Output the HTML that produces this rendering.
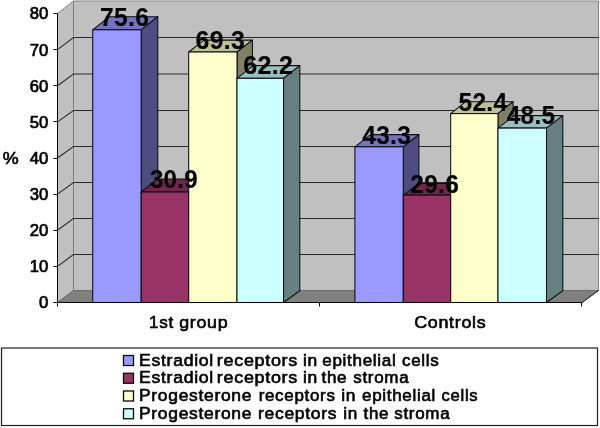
<!DOCTYPE html>
<html><head><meta charset="utf-8"><title>chart</title>
<style>html,body{margin:0;padding:0;background:#fff;}body{width:600px;height:428px;overflow:hidden;font-family:"Liberation Sans",sans-serif;}svg{display:block;will-change:transform;}text{font-family:"Liberation Sans",sans-serif;fill:#000;}</style>
</head><body>
<svg width="600" height="428" viewBox="0 0 600 428">
<rect width="600" height="428" fill="#fff"/>
<polygon points="73.5,1.0 598.5,1.0 598.5,290.5 73.5,290.5" fill="#c0c0c0" stroke="#808080" stroke-width="1"/>
<polygon points="57.5,13.54 73.5,1.0 73.5,290.5 57.5,302.5" fill="#c0c0c0" stroke="#808080" stroke-width="1"/>
<polygon points="57.5,302.5 73.5,290.5 598.5,290.5 582.0,302.5" fill="#808080" stroke="#6a6a6a" stroke-width="1"/>
<line x1="582.0" y1="302.5" x2="598.5" y2="290.5" stroke="#222" stroke-width="1"/>
<polyline points="57.5,266.38 73.5,254.5 598.5,254.5" fill="none" stroke="#2a2a2a" stroke-width="1.05"/>
<polyline points="57.5,230.26 73.5,218.5 598.5,218.5" fill="none" stroke="#2a2a2a" stroke-width="1.05"/>
<polyline points="57.5,194.14 73.5,182.5 598.5,182.5" fill="none" stroke="#2a2a2a" stroke-width="1.05"/>
<polyline points="57.5,158.02 73.5,146.5 598.5,146.5" fill="none" stroke="#2a2a2a" stroke-width="1.05"/>
<polyline points="57.5,121.90 73.5,110.5 598.5,110.5" fill="none" stroke="#2a2a2a" stroke-width="1.05"/>
<polyline points="57.5,85.78 73.5,74.0 598.5,74.0" fill="none" stroke="#2a2a2a" stroke-width="1.05"/>
<polyline points="57.5,49.66 73.5,37.5 598.5,37.5" fill="none" stroke="#2a2a2a" stroke-width="1.05"/>
<polygon points="92.7,29.8 109.3,16.7 157.8,16.7 141.2,29.8" fill="#7373bf" stroke="#0c0c14" stroke-width="1.05" stroke-linejoin="round"/>
<polygon points="141.2,29.8 157.8,16.7 157.8,290.7 141.2,302.5" fill="#4d4d80" stroke="#0c0c14" stroke-width="1.05" stroke-linejoin="round"/>
<rect x="92.7" y="29.8" width="48.5" height="272.7" fill="#9999ff" stroke="#0c0c14" stroke-width="1.05"/>
<polygon points="141.2,192.0 157.4,179.0 204.9,179.0 188.7,192.0" fill="#73264d" stroke="#0c0c14" stroke-width="1.05" stroke-linejoin="round"/>
<polygon points="188.7,192.0 204.9,179.0 204.9,290.7 188.7,302.5" fill="#4d1a33" stroke="#0c0c14" stroke-width="1.05" stroke-linejoin="round"/>
<rect x="141.2" y="192.0" width="47.5" height="110.5" fill="#993366" stroke="#0c0c14" stroke-width="1.05"/>
<polygon points="188.7,52.0 204.1,40.1 252.4,40.1 237.0,52.0" fill="#bfbf99" stroke="#0c0c14" stroke-width="1.05" stroke-linejoin="round"/>
<polygon points="237.0,52.0 252.4,40.1 252.4,290.7 237.0,302.5" fill="#808066" stroke="#0c0c14" stroke-width="1.05" stroke-linejoin="round"/>
<rect x="188.7" y="52.0" width="48.3" height="250.5" fill="#ffffcc" stroke="#0c0c14" stroke-width="1.05"/>
<polygon points="237.0,78.3 253.3,65.6 299.8,65.6 283.5,78.3" fill="#99bfbf" stroke="#0c0c14" stroke-width="1.05" stroke-linejoin="round"/>
<polygon points="283.5,78.3 299.8,65.6 299.8,290.7 283.5,302.5" fill="#668080" stroke="#0c0c14" stroke-width="1.05" stroke-linejoin="round"/>
<rect x="237.0" y="78.3" width="46.5" height="224.2" fill="#ccffff" stroke="#0c0c14" stroke-width="1.05"/>
<polygon points="354.9,146.8 370.5,134.6 418.9,134.6 403.3,146.8" fill="#7373bf" stroke="#0c0c14" stroke-width="1.05" stroke-linejoin="round"/>
<polygon points="403.3,146.8 418.9,134.6 418.9,290.7 403.3,302.5" fill="#4d4d80" stroke="#0c0c14" stroke-width="1.05" stroke-linejoin="round"/>
<rect x="354.9" y="146.8" width="48.4" height="155.7" fill="#9999ff" stroke="#0c0c14" stroke-width="1.05"/>
<polygon points="403.3,195.1 419.1,183.5 466.5,183.5 450.7,195.1" fill="#73264d" stroke="#0c0c14" stroke-width="1.05" stroke-linejoin="round"/>
<polygon points="450.7,195.1 466.5,183.5 466.5,290.7 450.7,302.5" fill="#4d1a33" stroke="#0c0c14" stroke-width="1.05" stroke-linejoin="round"/>
<rect x="403.3" y="195.1" width="47.4" height="107.4" fill="#993366" stroke="#0c0c14" stroke-width="1.05"/>
<polygon points="450.7,113.6 465.8,101.7 513.1,101.7 498.0,113.6" fill="#bfbf99" stroke="#0c0c14" stroke-width="1.05" stroke-linejoin="round"/>
<polygon points="498.0,113.6 513.1,101.7 513.1,290.7 498.0,302.5" fill="#808066" stroke="#0c0c14" stroke-width="1.05" stroke-linejoin="round"/>
<rect x="450.7" y="113.6" width="47.3" height="188.9" fill="#ffffcc" stroke="#0c0c14" stroke-width="1.05"/>
<polygon points="498.0,128.1 514.3,115.6 562.8,115.6 546.5,128.1" fill="#99bfbf" stroke="#0c0c14" stroke-width="1.05" stroke-linejoin="round"/>
<polygon points="546.5,128.1 562.8,115.6 562.8,290.7 546.5,302.5" fill="#668080" stroke="#0c0c14" stroke-width="1.05" stroke-linejoin="round"/>
<rect x="498.0" y="128.1" width="48.5" height="174.4" fill="#ccffff" stroke="#0c0c14" stroke-width="1.05"/>
<line x1="57.5" y1="13.54" x2="57.5" y2="306.5" stroke="#000" stroke-width="1"/>
<line x1="53.5" y1="302.5" x2="582.0" y2="302.5" stroke="#000" stroke-width="1"/>
<line x1="53.5" y1="302.5" x2="57.5" y2="302.5" stroke="#000" stroke-width="1"/>
<text transform="translate(48.20,308.40) scale(1.04,1)" font-size="16" text-anchor="end" stroke="#000" stroke-width="0.7">0</text>
<line x1="53.5" y1="266.5" x2="57.5" y2="266.5" stroke="#000" stroke-width="1"/>
<text transform="translate(48.20,272.28) scale(1.04,1)" font-size="16" text-anchor="end" stroke="#000" stroke-width="0.7">10</text>
<line x1="53.5" y1="230.5" x2="57.5" y2="230.5" stroke="#000" stroke-width="1"/>
<text transform="translate(48.20,236.16) scale(1.04,1)" font-size="16" text-anchor="end" stroke="#000" stroke-width="0.7">20</text>
<line x1="53.5" y1="194.5" x2="57.5" y2="194.5" stroke="#000" stroke-width="1"/>
<text transform="translate(48.20,200.04) scale(1.04,1)" font-size="16" text-anchor="end" stroke="#000" stroke-width="0.7">30</text>
<line x1="53.5" y1="158.5" x2="57.5" y2="158.5" stroke="#000" stroke-width="1"/>
<text transform="translate(48.20,163.92) scale(1.04,1)" font-size="16" text-anchor="end" stroke="#000" stroke-width="0.7">40</text>
<line x1="53.5" y1="121.5" x2="57.5" y2="121.5" stroke="#000" stroke-width="1"/>
<text transform="translate(48.20,127.80) scale(1.04,1)" font-size="16" text-anchor="end" stroke="#000" stroke-width="0.7">50</text>
<line x1="53.5" y1="85.5" x2="57.5" y2="85.5" stroke="#000" stroke-width="1"/>
<text transform="translate(48.20,91.68) scale(1.04,1)" font-size="16" text-anchor="end" stroke="#000" stroke-width="0.7">60</text>
<line x1="53.5" y1="49.5" x2="57.5" y2="49.5" stroke="#000" stroke-width="1"/>
<text transform="translate(48.20,55.56) scale(1.04,1)" font-size="16" text-anchor="end" stroke="#000" stroke-width="0.7">70</text>
<line x1="53.5" y1="13.5" x2="57.5" y2="13.5" stroke="#000" stroke-width="1"/>
<text transform="translate(48.20,18.54) scale(1.04,1)" font-size="16" text-anchor="end" stroke="#000" stroke-width="0.7">80</text>
<line x1="319.5" y1="302.5" x2="319.5" y2="306.5" stroke="#000" stroke-width="1"/>
<line x1="581.5" y1="302.5" x2="581.5" y2="306.5" stroke="#000" stroke-width="1"/>
<text transform="translate(2.80,163.60) scale(1.12,1)" font-size="16" stroke="#000" stroke-width="0.6">%</text>
<text transform="translate(149.07,327.70) scale(1.0665,1)" font-size="16" letter-spacing="0.656" stroke="#000" stroke-width="0.6">1st</text>
<text transform="translate(179.22,327.70) scale(1.1138,1)" font-size="16" letter-spacing="0.628" stroke="#000" stroke-width="0.6">group</text>
<text transform="translate(414.13,327.70) scale(1.1184,1)" font-size="16" letter-spacing="0.626" stroke="#000" stroke-width="0.6">Controls</text>
<text transform="translate(100.03,25.60) scale(0.929,1)" font-size="26.5" font-weight="bold" letter-spacing="0.323" stroke="#000" stroke-width="0.15">75.6</text>
<text transform="translate(149.89,187.80) scale(0.9114,1)" font-size="26.5" font-weight="bold" letter-spacing="0.329" stroke="#000" stroke-width="0.15">30.9</text>
<text transform="translate(195.62,48.80) scale(0.9373,1)" font-size="26.5" font-weight="bold" letter-spacing="0.320" stroke="#000" stroke-width="0.15">69.3</text>
<text transform="translate(243.18,74.30) scale(0.9465,1)" font-size="26.5" font-weight="bold" letter-spacing="0.317" stroke="#000" stroke-width="0.15">62.2</text>
<text transform="translate(362.24,143.80) scale(0.924,1)" font-size="26.5" font-weight="bold" letter-spacing="0.325" stroke="#000" stroke-width="0.15">43.3</text>
<text transform="translate(410.25,193.30) scale(0.9248,1)" font-size="26.5" font-weight="bold" letter-spacing="0.324" stroke="#000" stroke-width="0.15">29.6</text>
<text transform="translate(458.45,110.80) scale(0.9269,1)" font-size="26.5" font-weight="bold" letter-spacing="0.324" stroke="#000" stroke-width="0.15">52.4</text>
<text transform="translate(506.66,124.10) scale(0.9217,1)" font-size="26.5" font-weight="bold" letter-spacing="0.325" stroke="#000" stroke-width="0.15">48.5</text>
<rect x="1.5" y="348" width="596" height="77.5" fill="#fff" stroke="#222" stroke-width="1.2"/>
<rect x="123.5" y="355.5" width="10" height="10" fill="#9999ff" stroke="#0a0a0a" stroke-width="1.3"/>
<text transform="translate(139.00,365.50) scale(1.1042,1)" font-size="16" letter-spacing="0.634" stroke="#000" stroke-width="0.6">Estradiol</text>
<text transform="translate(216.85,365.50) scale(1.1221,1)" font-size="16" letter-spacing="0.624" stroke="#000" stroke-width="0.6">receptors</text>
<text transform="translate(302.95,365.50) scale(1.0881,1)" font-size="16" letter-spacing="0.643" stroke="#000" stroke-width="0.6">in</text>
<text transform="translate(322.21,365.50) scale(1.0659,1)" font-size="16" letter-spacing="0.657" stroke="#000" stroke-width="0.6">epithelial</text>
<text transform="translate(402.00,365.50) scale(1.0611,1)" font-size="16" letter-spacing="0.660" stroke="#000" stroke-width="0.6">cells</text>
<rect x="123.5" y="373.25" width="10" height="10" fill="#993366" stroke="#0a0a0a" stroke-width="1.3"/>
<text transform="translate(139.00,383.20) scale(1.1042,1)" font-size="16" letter-spacing="0.634" stroke="#000" stroke-width="0.6">Estradiol</text>
<text transform="translate(216.85,383.20) scale(1.1221,1)" font-size="16" letter-spacing="0.624" stroke="#000" stroke-width="0.6">receptors</text>
<text transform="translate(302.95,383.20) scale(1.0881,1)" font-size="16" letter-spacing="0.643" stroke="#000" stroke-width="0.6">in</text>
<text transform="translate(321.52,383.20) scale(1.0642,1)" font-size="16" letter-spacing="0.658" stroke="#000" stroke-width="0.6">the</text>
<text transform="translate(353.22,383.20) scale(1.0624,1)" font-size="16" letter-spacing="0.659" stroke="#000" stroke-width="0.6">stroma</text>
<rect x="123.5" y="391.0" width="10" height="10" fill="#ffffcc" stroke="#0a0a0a" stroke-width="1.3"/>
<text transform="translate(139.00,400.90) scale(1.0913,1)" font-size="16" letter-spacing="0.641" stroke="#000" stroke-width="0.6">Progesterone</text>
<text transform="translate(258.65,400.90) scale(1.0602,1)" font-size="16" letter-spacing="0.660" stroke="#000" stroke-width="0.6">receptors</text>
<text transform="translate(341.16,400.90) scale(1.0866,1)" font-size="16" letter-spacing="0.644" stroke="#000" stroke-width="0.6">in</text>
<text transform="translate(362.00,400.90) scale(1.0621,1)" font-size="16" letter-spacing="0.659" stroke="#000" stroke-width="0.6">epithelial</text>
<text transform="translate(441.52,400.90) scale(1.0419,1)" font-size="16" letter-spacing="0.672" stroke="#000" stroke-width="0.6">cells</text>
<rect x="123.5" y="408.75" width="10" height="10" fill="#ccffff" stroke="#0a0a0a" stroke-width="1.3"/>
<text transform="translate(139.00,418.60) scale(1.0913,1)" font-size="16" letter-spacing="0.641" stroke="#000" stroke-width="0.6">Progesterone</text>
<text transform="translate(258.00,418.60) scale(1.0947,1)" font-size="16" letter-spacing="0.639" stroke="#000" stroke-width="0.6">receptors</text>
<text transform="translate(343.16,418.60) scale(1.0733,1)" font-size="16" letter-spacing="0.652" stroke="#000" stroke-width="0.6">in</text>
<text transform="translate(363.50,418.60) scale(1.0572,1)" font-size="16" letter-spacing="0.662" stroke="#000" stroke-width="0.6">the</text>
<text transform="translate(394.22,418.60) scale(1.0624,1)" font-size="16" letter-spacing="0.659" stroke="#000" stroke-width="0.6">stroma</text>
</svg></body></html>
